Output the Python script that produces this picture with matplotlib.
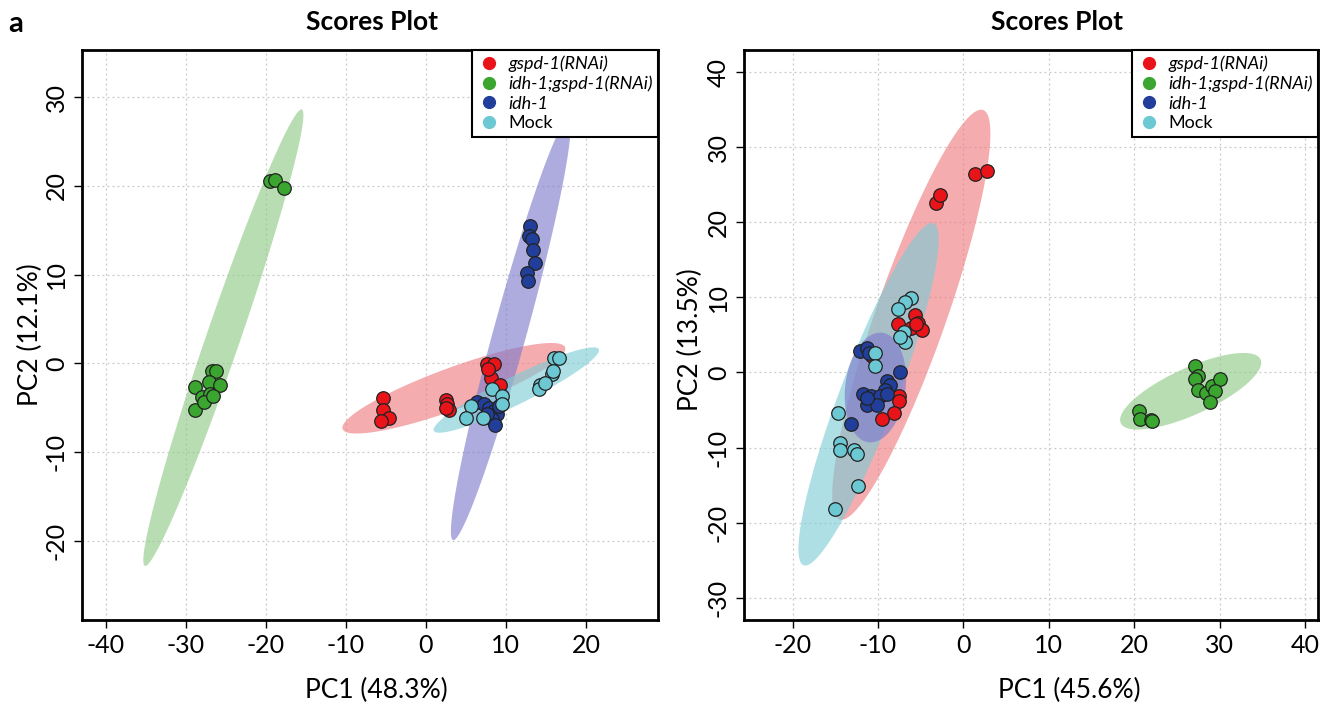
"""Two PCA scores plots side by side (panel a).

Run:  python plot.py  -> out.png
"""
import matplotlib

matplotlib.use("Agg")
import matplotlib.pyplot as plt  # noqa: E402
import numpy as np  # noqa: E402
from matplotlib.lines import Line2D  # noqa: E402

plt.rcParams["font.family"] = ["Lato", "DejaVu Sans"]
plt.rcParams["axes.unicode_minus"] = False

GROUPS = ["gspd-1(RNAi)", "idh-1;gspd-1(RNAi)", "idh-1", "Mock"]
ITALIC = [True, True, True, False]
COLORS = ["#e8141a", "#3aa52f", "#213f9a", "#6cc8d3"]
FILLS = ["#ee797f", "#8fc985", "#7c79cc", "#7ccCd6"]

# ---- left panel: PC1 (48.3%) / PC2 (12.1%) ----
L_RED_X = [-5.4, -5.4, -4.6, -5.6, 2.5, 2.7, 2.9, 2.5, 7.7, 8.5, 8.1, 9.3, 7.8]
L_RED_Y = [-3.9, -5.2, -6.1, -6.5, -4.1, -4.6, -5.2, -5.0, -0.1, -0.1, -1.6, -2.4, -0.6]
L_GRN_X = [-19.5, -18.9, -17.7, -26.7, -26.2, -28.9, -27.1, -25.7, -28.0, -27.0,
           -28.9, -27.7, -26.6]
L_GRN_Y = [20.6, 20.7, 19.8, -0.9, -0.9, -2.7, -2.1, -2.4, -3.8, -3.5, -5.2, -4.3, -3.7]
L_BLU_X = [6.4, 7.3, 7.9, 8.5, 8.9, 8.3, 8.7, 9.1, 7.7,
           13.0, 12.9, 13.3, 13.4, 13.6, 12.6, 12.8]
L_BLU_Y = [-4.4, -4.6, -5.0, -5.4, -5.7, -6.3, -6.9, -4.8, -5.7,
           15.5, 14.3, 14.0, 12.8, 11.3, 10.2, 9.3]
L_CYN_X = [5.6, 5.0, 7.1, 8.3, 9.5, 9.5, 16.0, 16.6, 15.8, 15.9, 14.3, 14.1, 14.9]
L_CYN_Y = [-4.8, -6.1, -6.1, -2.9, -3.7, -4.6, 0.6, 0.6, -1.2, -0.9, -2.4, -2.9, -2.2]

# ellipses: centre, end of major semi-axis, end of minor semi-axis
L_ELL_CENTER = [(3.5, -2.8), (-25.3, 2.9), (10.6, 3.8), (11.3, -3.0)]
L_ELL_MAJOR = [(17.4, 1.8), (-15.5, 28.6), (17.8, 27.5), (21.6, 1.6)]
L_ELL_MINOR = [(4.4, -5.0), (-23.3, 2.3), (12.6, 3.3), (12.1, -4.4)]

# ---- right panel: PC1 (45.6%) / PC2 (13.5%) ----
R_RED_X = [1.4, 2.8, -3.2, -2.7, -5.7, -7.6, -6.1, -5.3, -4.8, -5.5,
           -7.5, -7.5, -8.1, -9.5, -10.7]
R_RED_Y = [26.4, 26.9, 22.6, 23.6, 7.7, 6.4, 5.9, 6.6, 5.6, 6.4,
           -3.2, -3.8, -5.4, -6.2, 2.2]
R_GRN_X = [27.1, 27.4, 27.1, 27.5, 28.4, 29.1, 30.0, 29.5, 28.9, 20.5, 20.7, 21.9, 22.1]
R_GRN_Y = [0.9, -0.5, -0.9, -2.3, -2.8, -1.8, -0.9, -2.5, -4.0, -5.2, -6.2, -6.3, -6.4]
R_BLU_X = [-12.1, -11.3, -11.1, -7.4, -9.0, -8.6, -9.2, -11.7, -10.8, -9.8,
           -11.3, -10.1, -13.1, -11.3, -9.0]
R_BLU_Y = [2.8, 3.2, 2.6, 0.0, -1.2, -1.7, -2.3, -2.9, -3.2, -3.1,
           -4.4, -4.3, -6.9, -3.4, -2.9]
R_CYN_X = [-6.1, -6.8, -7.6, -7.0, -6.8, -7.4, -10.4, -10.3,
           -14.7, -14.5, -14.5, -12.8, -12.5, -12.3, -15.0]
R_CYN_Y = [9.9, 9.4, 8.4, 5.4, 4.0, 4.7, 2.6, 0.8,
           -5.4, -9.4, -10.3, -10.3, -10.9, -15.1, -18.2]

R_ELL_CENTER = [(-6.1, 7.7), (26.6, -2.5), (-10.3, -2.0), (-11.1, -2.9)]
R_ELL_MAJOR = [(2.3, 35.0), (34.8, 1.7), (-9.5, 5.3), (-3.5, 19.9)]
R_ELL_MINOR = [(-2.2, 6.2), (27.6, -5.4), (-6.8, -2.5), (-8.0, -4.2)]


def ellipse_xy(center, major, minor, n=200):
    c = np.asarray(center, float)
    a = np.asarray(major, float) - c
    b = np.asarray(minor, float) - c
    t = np.linspace(0, 2 * np.pi, n)
    pts = c + np.outer(np.cos(t), a) + np.outer(np.sin(t), b)
    return pts[:, 0], pts[:, 1]


def scores_panel(ax, points, centers, majors, minors, ell_order,
                 xlim, ylim, xticks, yticks):
    for i in ell_order:
        ex, ey = ellipse_xy(centers[i], majors[i], minors[i])
        ax.fill(ex, ey, color=FILLS[i], alpha=0.62, lw=0, zorder=1)
    for i, (xs, ys) in enumerate(points):
        ax.scatter(xs, ys, s=95, color=COLORS[i], edgecolor="#222222",
                   linewidth=0.9, zorder=3)
    ax.set_xlim(*xlim)
    ax.set_ylim(*ylim)
    ax.set_xticks(xticks)
    ax.set_yticks(yticks)
    ax.grid(True, color="#c8c8c8", ls=(0, (1.5, 2.5)), lw=0.9, zorder=0)
    ax.set_axisbelow(True)
    ax.tick_params(direction="out", length=6, width=1, labelsize=18, pad=4)
    for lab in ax.get_yticklabels():
        lab.set_rotation(90)
        lab.set_va("center")
    for sp in ax.spines.values():
        sp.set_linewidth(2)
    handles = [Line2D([], [], marker="o", ls="", color=COLORS[i], markersize=8.5)
               for i in range(4)]
    leg = ax.legend(handles, GROUPS, loc="upper right", borderaxespad=0,
                    fontsize=13, frameon=True, fancybox=False, handletextpad=0.4,
                    labelspacing=0.2, borderpad=0.3, handlelength=1.3)
    leg.get_frame().set_edgecolor("black")
    leg.get_frame().set_linewidth(1.5)
    leg.get_frame().set_alpha(1)
    leg.set_zorder(5)
    for txt, it in zip(leg.get_texts(), ITALIC):
        if it:
            txt.set_style("italic")


def main():
    fig = plt.figure(figsize=(13.39, 7.12), dpi=100)
    ax1 = fig.add_axes([0.061, 0.1292, 0.4304, 0.8006])
    ax2 = fig.add_axes([0.5555, 0.1292, 0.4288, 0.8006])

    scores_panel(ax1,
                 [(L_RED_X, L_RED_Y), (L_GRN_X, L_GRN_Y),
                  (L_BLU_X, L_BLU_Y), (L_CYN_X, L_CYN_Y)],
                 L_ELL_CENTER, L_ELL_MAJOR, L_ELL_MINOR, [0, 1, 2, 3],
                 (-43.0, 29.0), (-28.9, 35.3),
                 [-40, -30, -20, -10, 0, 10, 20], [-20, -10, 0, 10, 20, 30])
    scores_panel(ax2,
                 [(R_RED_X, R_RED_Y), (R_GRN_X, R_GRN_Y),
                  (R_BLU_X, R_BLU_Y), (R_CYN_X, R_CYN_Y)],
                 R_ELL_CENTER, R_ELL_MAJOR, R_ELL_MINOR, [0, 1, 3, 2],
                 (-25.7, 41.5), (-33.0, 43.0),
                 [-20, -10, 0, 10, 20, 30, 40], [-30, -20, -10, 0, 10, 20, 30, 40])

    fig.text(372 / 1339, 1 - 22 / 712, "Scores Plot", ha="center", va="center",
             fontsize=19, fontweight="bold")
    fig.text(1057 / 1339, 1 - 22 / 712, "Scores Plot", ha="center", va="center",
             fontsize=19, fontweight="bold")
    fig.text(16 / 1339, 1 - 24 / 712, "a", ha="center", va="center",
             fontsize=21, fontweight="bold")
    fig.text(376 / 1339, 1 - 690 / 712, "PC1 (48.3%)", ha="center", va="center",
             fontsize=19)
    fig.text(1069 / 1339, 1 - 690 / 712, "PC1 (45.6%)", ha="center", va="center",
             fontsize=19)
    fig.text(30 / 1339, 1 - 335 / 712, "PC2 (12.1%)", ha="center", va="center",
             fontsize=19, rotation=90)
    fig.text(690 / 1339, 1 - 340 / 712, "PC2 (13.5%)", ha="center", va="center",
             fontsize=19, rotation=90)

    fig.savefig("out.png", dpi=100)
    plt.close(fig)


if __name__ == "__main__":
    main()
